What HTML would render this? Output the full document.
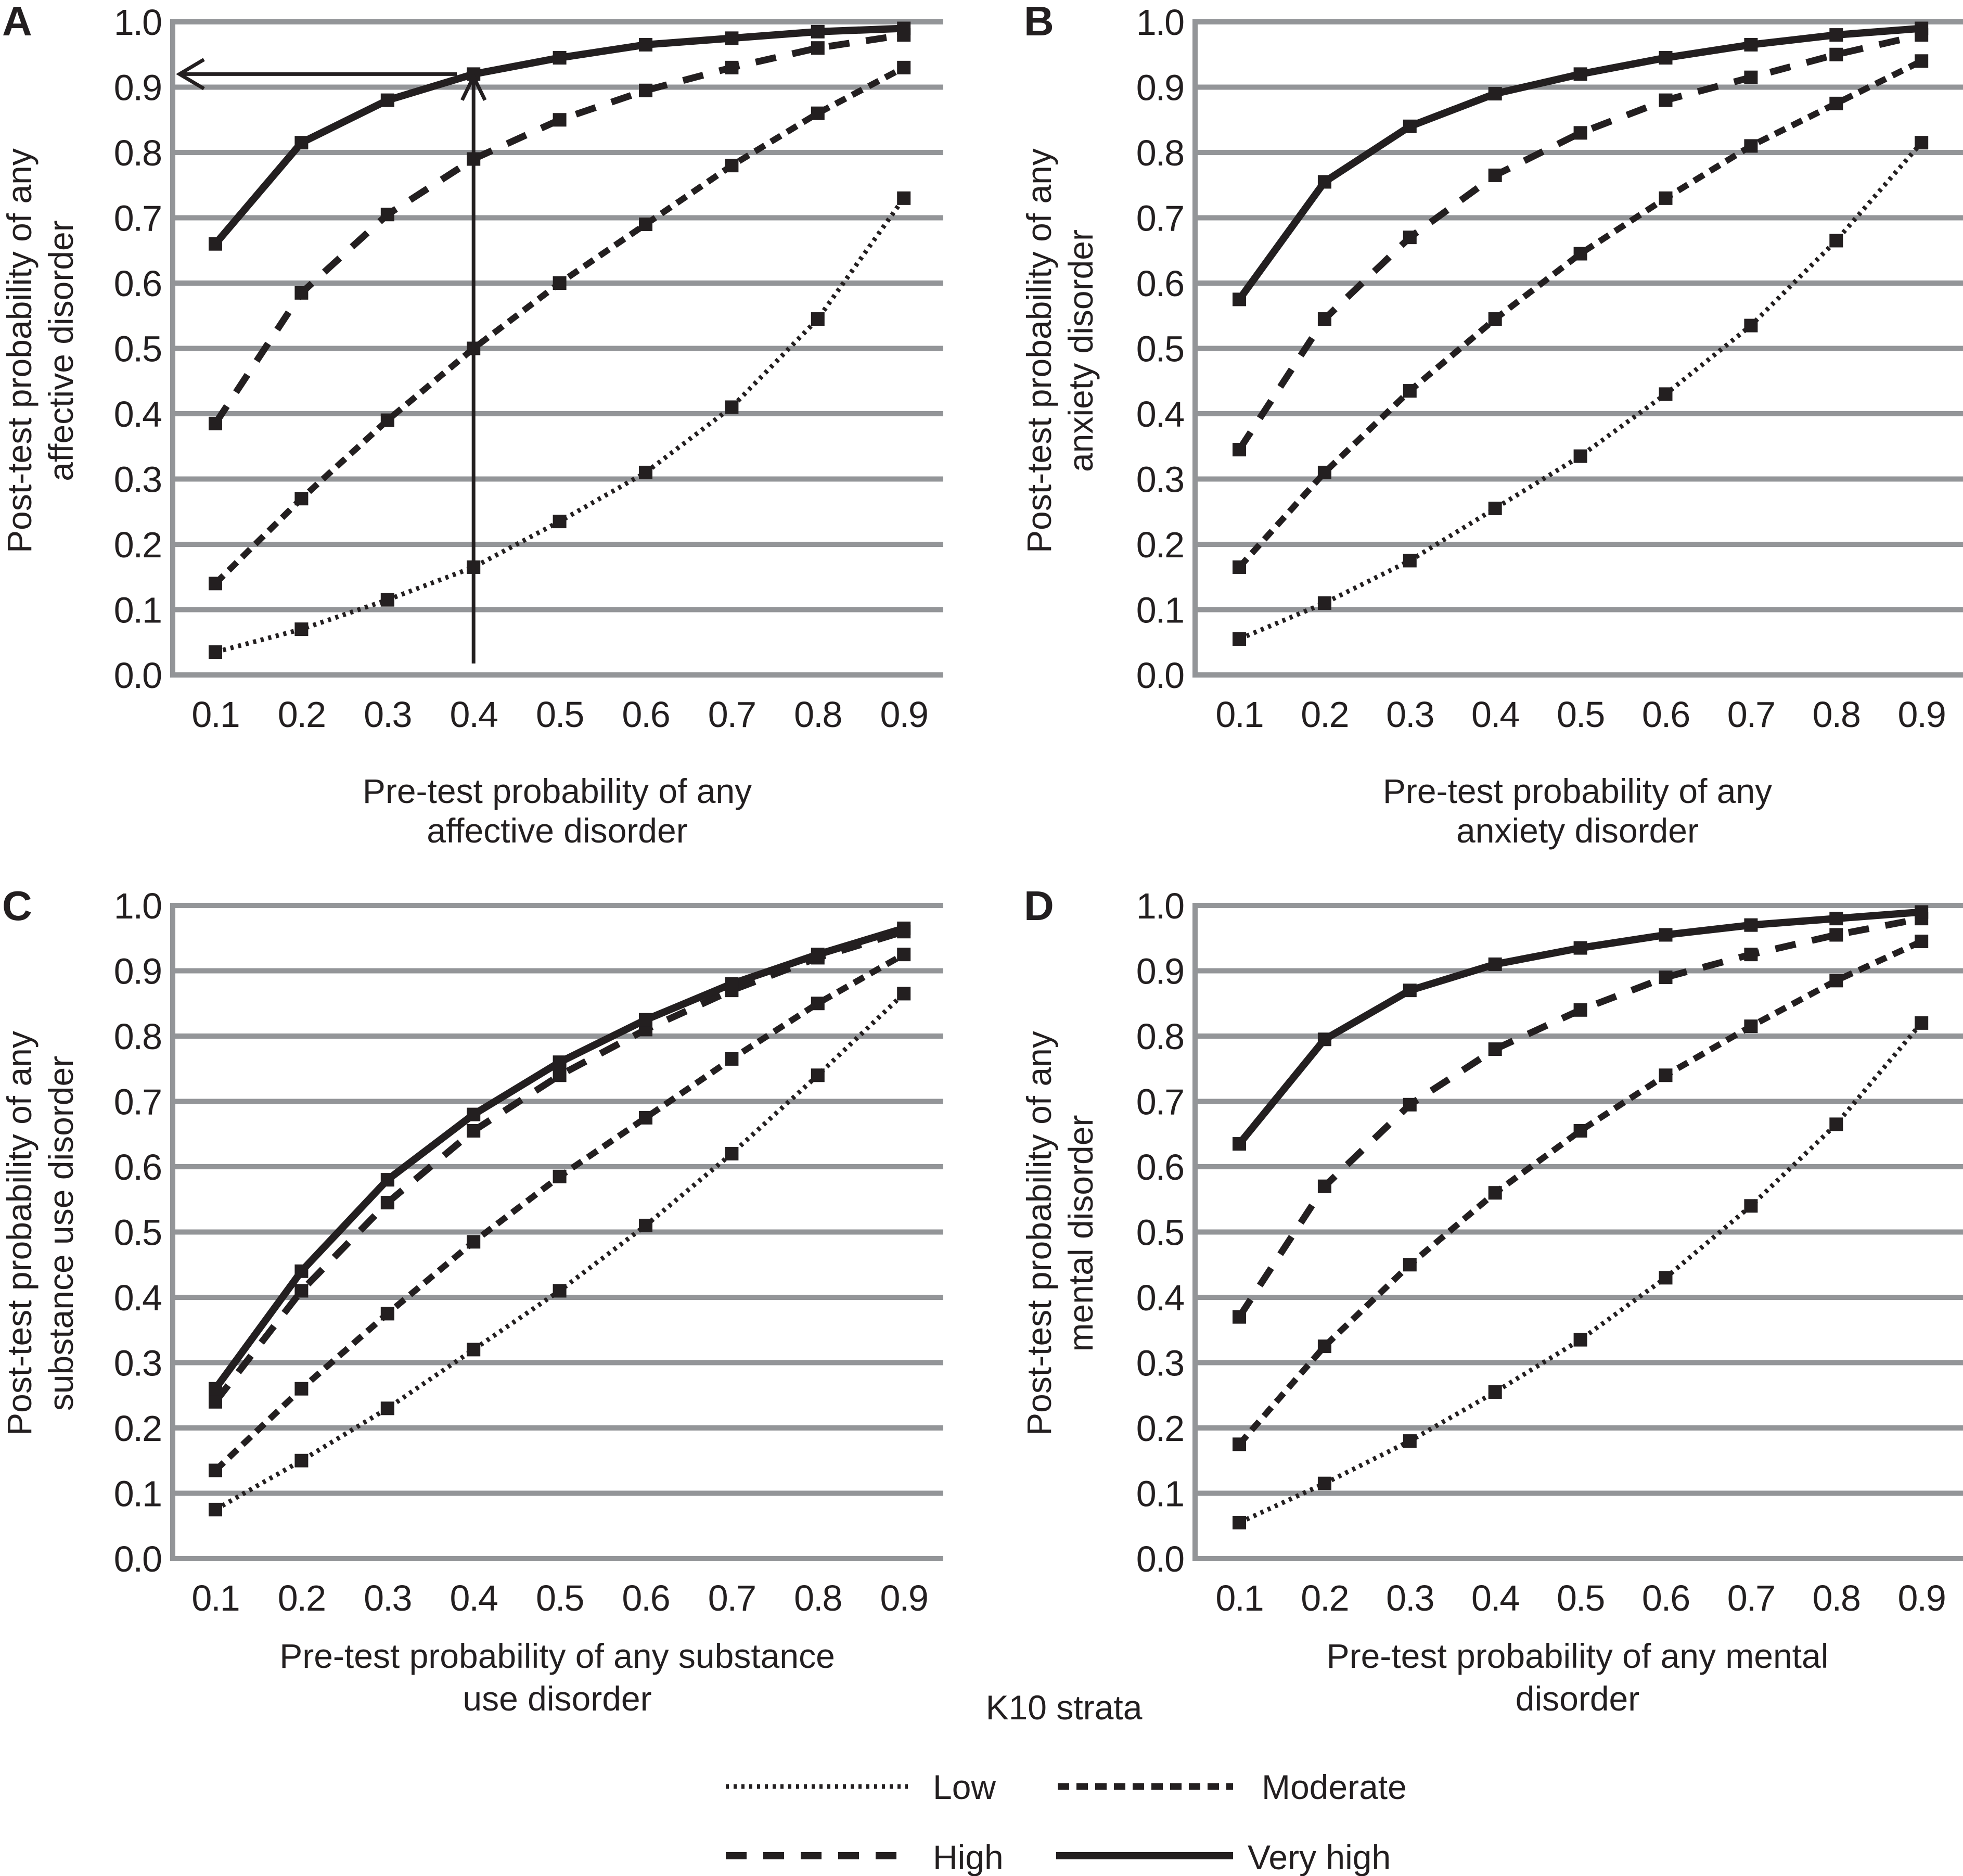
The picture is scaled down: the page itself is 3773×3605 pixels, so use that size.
<!DOCTYPE html>
<html><head><meta charset="utf-8"><style>
html,body{margin:0;padding:0;background:#fff}
svg{display:block}
text{font-family:"Liberation Sans",Arial,sans-serif;fill:#231f20}
</style></head><body>
<svg id="s" xmlns="http://www.w3.org/2000/svg" width="3773" height="3605" viewBox="0 0 3773 3605">
<rect width="3773" height="3605" fill="#fff"/>
<g id="g"></g>
<text x="4" y="68" font-size="80" font-weight="bold">A</text>
<text x="1968" y="68" font-size="80" font-weight="bold">B</text>
<text x="4" y="1768" font-size="80" font-weight="bold">C</text>
<text x="1968" y="1768" font-size="80" font-weight="bold">D</text>
<g font-size="66" text-anchor="middle">
<text x="1071" y="1543">Pre-test probability of any</text>
<text x="1071" y="1619">affective disorder</text>
<text x="3032" y="1543">Pre-test probability of any</text>
<text x="3032" y="1619">anxiety disorder</text>
<text x="1071" y="3205">Pre-test probability of any substance</text>
<text x="1071" y="3287">use disorder</text>
<text x="3032" y="3205">Pre-test probability of any mental</text>
<text x="3032" y="3287">disorder</text>
<g transform="translate(60,674) rotate(-90)"><text x="0" y="0">Post-test probability of any</text><text x="0" y="80">affective disorder</text></g>
<g transform="translate(2020,674) rotate(-90)"><text x="0" y="0">Post-test probability of any</text><text x="0" y="80">anxiety disorder</text></g>
<g transform="translate(60,2370) rotate(-90)"><text x="0" y="0">Post-test probability of any</text><text x="0" y="80">substance use disorder</text></g>
<g transform="translate(2020,2370) rotate(-90)"><text x="0" y="0">Post-test probability of any</text><text x="0" y="80">mental disorder</text></g>
<text x="2045" y="3304">K10 strata</text>
</g>
<line x1="1395" y1="3433" x2="1745" y2="3433" stroke="#231f20" stroke-width="9" stroke-dasharray="6 9"/>
<text x="1793" y="3457" font-size="66">Low</text>
<line x1="2033" y1="3433" x2="2370" y2="3433" stroke="#231f20" stroke-width="13" stroke-dasharray="22 14"/>
<text x="2425" y="3457" font-size="66">Moderate</text>
<line x1="1395" y1="3566" x2="1745" y2="3566" stroke="#231f20" stroke-width="14" stroke-dasharray="40 32"/>
<text x="1793" y="3592" font-size="66">High</text>
<line x1="2030" y1="3566" x2="2370" y2="3566" stroke="#231f20" stroke-width="14"/>
<text x="2398" y="3592" font-size="66">Very high</text>
</svg>
<script>
var g=document.getElementById('g'),NS='http://www.w3.org/2000/svg';
function el(t,a,txt){var e=document.createElementNS(NS,t);for(var k in a)e.setAttribute(k,a[k]);if(txt)e.textContent=txt;g.appendChild(e);return e;}
var P=[
{x0:332,x1:1813,p0:414,dp:165.4,y1:42,y0:1297,
d:[[.035,.07,.115,.165,.235,.31,.41,.545,.73],[.14,.27,.39,.50,.60,.69,.78,.86,.93],[.385,.585,.705,.79,.85,.895,.93,.96,.98],[.66,.815,.88,.92,.945,.965,.975,.985,.99]]},
{x0:2297,x1:3773,p0:2382,dp:163.9,y1:42,y0:1297,
d:[[.055,.11,.175,.255,.335,.43,.535,.665,.815],[.165,.31,.435,.545,.645,.73,.81,.875,.94],[.345,.545,.67,.765,.83,.88,.915,.95,.98],[.575,.755,.84,.89,.92,.945,.965,.98,.99]]},
{x0:332,x1:1813,p0:414,dp:165.4,y1:1740,y0:2995,
d:[[.075,.15,.23,.32,.41,.51,.62,.74,.865],[.135,.26,.375,.485,.585,.675,.765,.85,.925],[.24,.41,.545,.655,.74,.81,.87,.92,.96],[.26,.44,.58,.68,.76,.825,.88,.925,.965]]},
{x0:2297,x1:3773,p0:2382,dp:163.9,y1:1740,y0:2995,
d:[[.055,.115,.18,.255,.335,.43,.54,.665,.82],[.175,.325,.45,.56,.655,.74,.815,.885,.945],[.37,.57,.695,.78,.84,.89,.925,.955,.98],[.635,.795,.87,.91,.935,.955,.97,.98,.99]]}];
var st=[{w:9,da:'6 9'},{w:12,da:'22 14'},{w:13,da:'40 32'},{w:14,da:''}];
P.forEach(function(p){
 var sy=(p.y0-p.y1);
 for(var i=0;i<=10;i++){var y=p.y0-sy*i/10;
  el('line',{x1:p.x0-5,y1:y,x2:p.x1,y2:y,stroke:'#939598','stroke-width':10});
  el('text',{x:p.x0-22,y:y+25,'font-size':70,'text-anchor':'end','letter-spacing':'-2'},(i/10).toFixed(1));}
 el('line',{x1:p.x0,y1:p.y1-5,x2:p.x0,y2:p.y0+5,stroke:'#939598','stroke-width':10});
 for(var j=0;j<9;j++)el('text',{x:p.p0+j*p.dp,y:p.y0+100,'font-size':70,'text-anchor':'middle','letter-spacing':'-2'},'0.'+(j+1));
 p.d.forEach(function(s,k){
  var pts=s.map(function(v,j){return (p.p0+j*p.dp)+','+(p.y0-sy*v)}).join(' ');
  var a={points:pts,fill:'none',stroke:'#231f20','stroke-width':st[k].w,'stroke-linejoin':'round'};
  if(st[k].da)a['stroke-dasharray']=st[k].da;
  el('polyline',a);
  s.forEach(function(v,j){el('rect',{x:p.p0+j*p.dp-13,y:p.y0-sy*v-13,width:26,height:26,fill:'#231f20'});});
 });
});
var ay=1297-1255*0.92;
el('line',{x1:878,y1:ay,x2:345,y2:ay,stroke:'#231f20','stroke-width':7});
el('polyline',{points:(392)+','+(ay-28)+' 345,'+ay+' '+392+','+(ay+28),fill:'none',stroke:'#231f20','stroke-width':7});
var ax=414+3*165.4;
el('line',{x1:ax,y1:1275,x2:ax,y2:ay+5,stroke:'#231f20','stroke-width':7});
el('polyline',{points:(ax-22)+','+(ay+50)+' '+ax+','+(ay+5)+' '+(ax+22)+','+(ay+50),fill:'none',stroke:'#231f20','stroke-width':7});
</script>
</body></html>
